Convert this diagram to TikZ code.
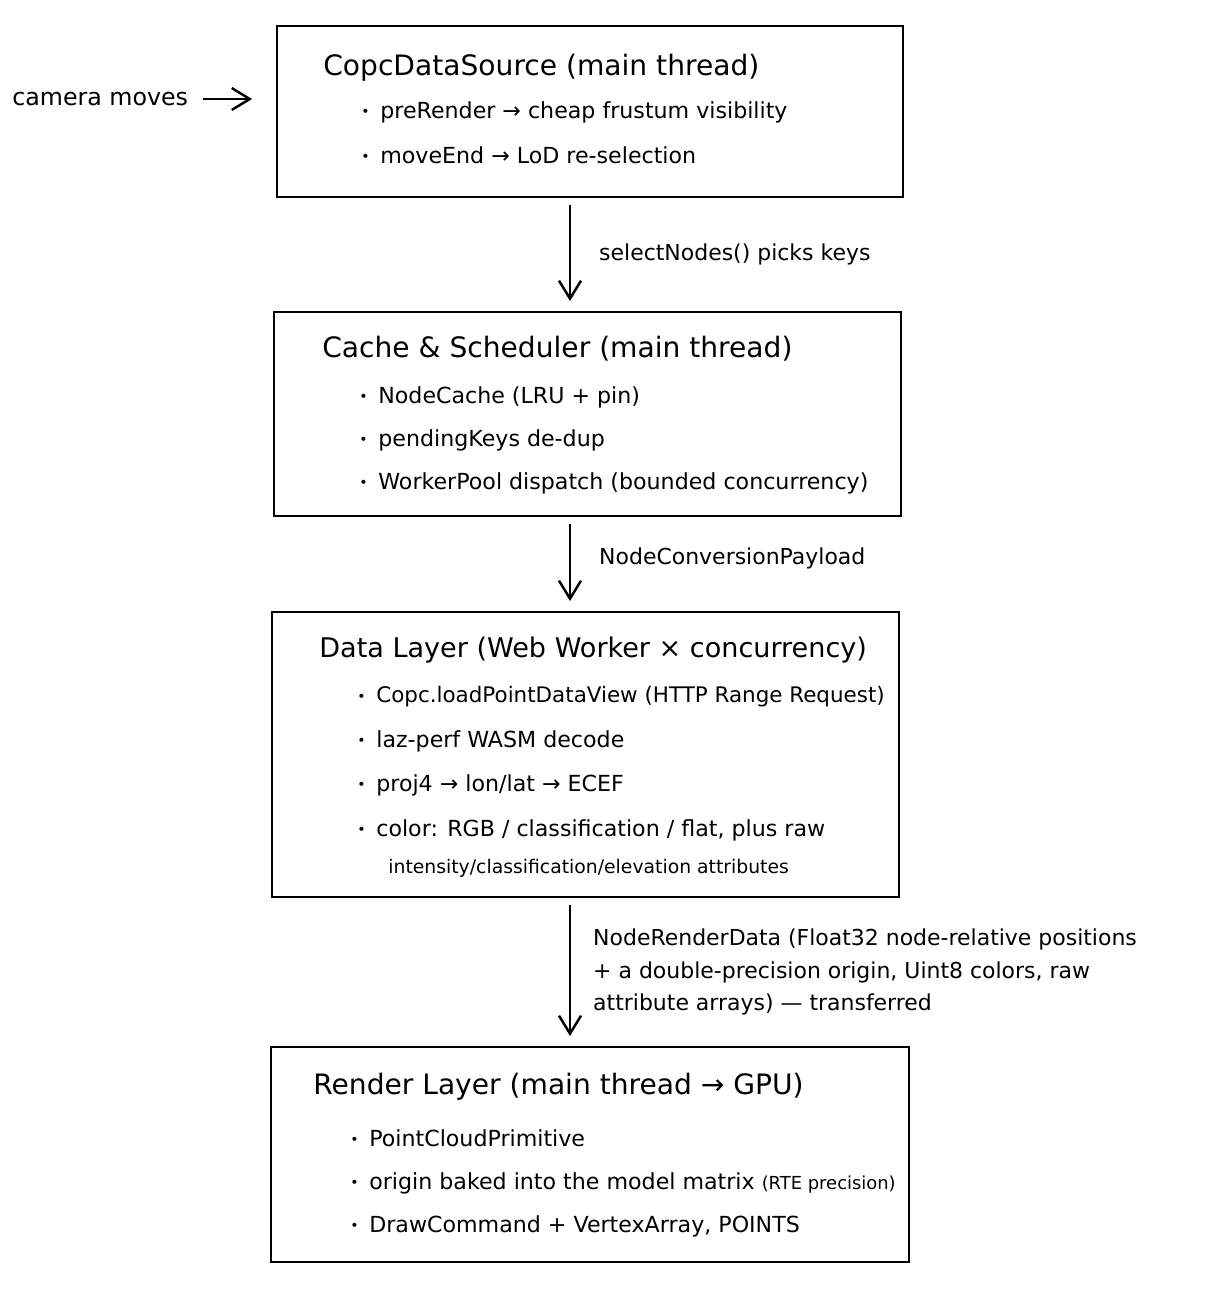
\documentclass[tikz,border=0pt]{standalone}
\usepackage{fontspec}
\setmainfont{DejaVu Sans}
\usetikzlibrary{arrows.meta, positioning}
\newcommand{\hd}{\fontsize{16}{19}\selectfont}
\newcommand{\tx}{\fontsize{12.6}{15}\selectfont}
\newcommand{\lb}{\fontsize{12.5}{18.7}\selectfont}
\newcommand{\sm}{\fontsize{10.7}{13}\selectfont}
\newcommand{\bul}{\makebox[0.38cm][l]{\fontsize{8}{8}\selectfont\raisebox{0.2ex}{•}}}

\begin{document}
\begin{tikzpicture}[x=0.02cm, y=-0.02cm, >={Straight Barb[length=0.36cm,width=0.44cm]},
        box/.style={draw, line width=1.5pt, outer sep=0pt, inner sep=0pt},
        head/.style={anchor=west, inner sep=0pt, font=\hd},
        item/.style={anchor=west, inner sep=0pt, font=\tx},
        flow/.style={->, line width=1.4pt, shorten <=0.16cm, shorten >=0.22cm},
        lbl/.style={right=0.56cm, inner sep=0pt, font=\lb, align=left}]
        \useasboundingbox (0,0) rectangle (1206,1304);
        \coordinate (spine) at (570,0);

        % CopcDataSource
        \node[box, minimum width=12.52cm, minimum height=3.42cm] (src) at (590,111.5) {};
        \node[head] (t1) at (323,68) {CopcDataSource (main thread)};
        \node[item] (s1) at (361,112) {\bul preRender → cheap frustum visibility};
        \node[item] (s2) at (361,155) {\bul moveEnd → LoD re-selection};

        % Cache & Scheduler
        \node[box, minimum width=12.54cm, minimum height=4.08cm] (cache) at (587.5,414) {};
        \node[head] (t2) at (322,349) {Cache \& Scheduler (main thread)};
        \node[item] (c1) at (359,397) {\bul NodeCache (LRU + pin)};
        \node[item] (c2) at (359,440) {\bul pendingKeys de-dup};
        \node[item] (c3) at (359,483) {\bul WorkerPool dispatch (bounded concurrency)};

        % Data Layer
        \node[box, minimum width=12.54cm, minimum height=5.70cm] (data) at (585.5,754.5) {};
        \node[head, font=\fontsize{15.4}{18}\selectfont] (t3) at (319,650) {Data Layer (Web Worker × concurrency)};
        \node[item, font=\fontsize{12.2}{15}\selectfont] (d1) at (357,697) {\bul Copc.loadPointDataView (HTTP Range Request)};
        \node[item] (d2) at (357,741) {\bul laz-perf WASM decode};
        \node[item] (d3) at (357,785) {\bul proj4 → lon/lat → ECEF};
        \node[item] (d4) at (357,830) {\bul color: RGB / classification / flat, plus raw};
        \node[item, font=\sm] (d5) at (388,868) {intensity/classification/elevation attributes};

        % Render Layer
        \node[box, minimum width=12.76cm, minimum height=4.30cm] (render) at (590,1154.5) {};
        \node[head] (t4) at (313,1087) {Render Layer (main thread → GPU)};
        \node[item] (r1) at (350,1138) {\bul PointCloudPrimitive};
        \node[item] (r2) at (350,1183) {\bul origin baked into the model matrix {\fontsize{10.2}{13}\selectfont (RTE precision)}};
        \node[item] (r3) at (350,1226) {\bul DrawCommand + VertexArray, POINTS};

        \node[item, font=\fontsize{13.5}{16}\selectfont] (cam) at (12,99) {camera moves};

        \draw[->, line width=1.4pt, shorten <=0.3cm, shorten >=0.5cm] (cam.east) -- (cam.east -| src.west);
        \draw[flow] (src.south -| spine) -- node[lbl] {selectNodes() picks keys} (cache.north -| spine);
        \draw[flow] (cache.south -| spine) -- node[lbl, yshift=0.12cm] {NodeConversionPayload} (data.north -| spine);
        \draw[flow] (data.south -| spine) -- node[lbl, right=0.44cm] {NodeRenderData (Float32 node-relative positions\\+ a double-precision origin, Uint8 colors, raw\\attribute arrays) — transferred} (render.north -| spine);
    \end{tikzpicture}
\end{document}
